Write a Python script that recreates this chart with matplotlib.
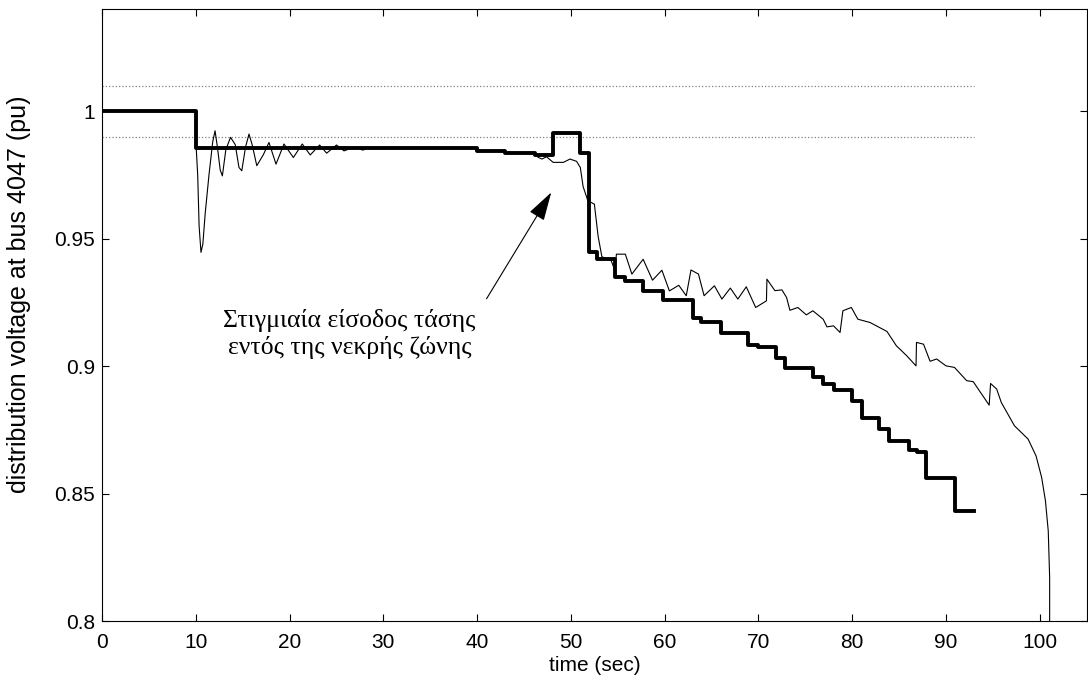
import matplotlib.pyplot as plt
import numpy as np

plt.rcParams["font.family"] = "Liberation Sans"
plt.rcParams.update({'font.size': 15})

# controller reference (step curve): switching times and levels
ref_t = [0, 10, 40, 43, 46.2, 48.1, 51, 51.9, 52.8, 54.7, 55.8, 57.7, 59.8, 63.0, 63.9,
         66.0, 68.9, 70.0, 71.9, 72.8, 75.8, 76.9, 78.0, 80.0, 81.0, 82.9, 83.9, 86.0,
         86.9, 87.9, 91.0, 93.0]
ref_v = [1.0, 0.9858, 0.9843, 0.9836, 0.983, 0.9915, 0.9836, 0.945, 0.942, 0.935, 0.9333,
         0.9297, 0.926, 0.9188, 0.9175, 0.913, 0.9085, 0.9077, 0.9031, 0.8995, 0.896,
         0.893, 0.8906, 0.8865, 0.8797, 0.8754, 0.8708, 0.8672, 0.8665, 0.8564, 0.8433,
         0.8433]

# measured distribution voltage
vt = [0, 10.0, 10.05, 10.2, 10.35, 10.55, 10.75, 11.0, 11.4, 11.8, 12.05, 12.3, 12.6, 12.83,
      13.2, 13.7, 14.2, 14.6, 14.9, 15.3, 15.67, 16.0, 16.5, 17.2, 17.8, 18.55, 19.4, 20.4,
      21.35, 22.2, 23.2, 23.95, 25.0, 25.8, 26.97, 27.8, 28.5, 39.9, 40.0, 43.0, 43.05, 46.0,
      46.5, 46.9, 47.4, 48.1, 49.2, 49.9, 50.6, 51.0, 51.3, 51.8, 52.5, 52.9, 53.3, 54.3,
      54.7, 54.85, 55.8, 56.5, 57.7, 58.7, 59.7, 60.5, 61.5, 62.3, 62.8, 63.6, 64.2, 65.3,
      66.1, 67.0, 67.8, 68.7, 69.7, 70.85, 70.9, 71.75, 72.5, 73.0, 73.35, 74.2, 75.1, 75.8,
      76.9, 77.3, 78.0, 78.7, 79.0, 79.9, 80.6, 81.9, 83.7, 84.7, 85.8, 86.8, 86.85, 87.6,
      88.3, 89.0, 90.0, 90.9, 92.2, 92.9, 94.6, 94.75, 95.4, 95.9, 97.3, 98.75, 99.6, 100.2,
      100.6, 100.9, 101.05, 101.05]
vv = [1.0, 1.0, 0.985, 0.975, 0.955, 0.9447, 0.948, 0.96, 0.975, 0.988, 0.9924, 0.986, 0.977,
      0.9747, 0.985, 0.9898, 0.987, 0.978, 0.9767, 0.986, 0.9911, 0.987, 0.9787, 0.983, 0.9878,
      0.9793, 0.9872, 0.9819, 0.9872, 0.9829, 0.9868, 0.9836, 0.9868, 0.9845, 0.9861, 0.9848,
      0.9858, 0.9858, 0.9843, 0.9843, 0.9836, 0.9836, 0.982, 0.9813, 0.9822, 0.980, 0.980,
      0.9813, 0.9804, 0.978, 0.9705, 0.965, 0.9636, 0.951, 0.943, 0.9414, 0.9375, 0.944,
      0.944, 0.9362, 0.942, 0.9338, 0.9377, 0.9296, 0.9318, 0.9277, 0.9378, 0.9362, 0.9277,
      0.9316, 0.9264, 0.9307, 0.9264, 0.9312, 0.9231, 0.9257, 0.9342, 0.9297, 0.930, 0.927,
      0.922, 0.9231, 0.9202, 0.9218, 0.9185, 0.9155, 0.9159, 0.9133, 0.9218, 0.9231, 0.9185,
      0.9172, 0.9137, 0.9081, 0.9042, 0.9002, 0.9094, 0.9087, 0.9020, 0.9029, 0.9002, 0.8996,
      0.8944, 0.894, 0.8848, 0.8933, 0.8911, 0.8858, 0.8767, 0.8715, 0.8649, 0.8564, 0.8473,
      0.8355, 0.8172, 0.79]

# dead band limits
band = [0.99, 1.01]
band_end = 93

xticks = np.arange(0, 101, 10)
yticks = [0.8, 0.85, 0.9, 0.95, 1.0]
ytick_labels = ['0.8', '0.85', '0.9', '0.95', '1']

fig = plt.figure(figsize=(10.88, 6.92), dpi=100)
ax = fig.add_axes([0.0938, 0.102, 0.905, 0.8845])

for b in band:
    ax.plot([0, band_end], [b, b], ':', c='gray', linewidth=0.9)
ax.plot(vt, vv, '-', c='k', linewidth=0.8)
ax.plot(ref_t, ref_v, '-', c='k', linewidth=2.8, drawstyle='steps-post')

ax.annotate('', xy=(47.9, 0.9682), xytext=(41.0, 0.9265),
            arrowprops=dict(arrowstyle='-|>,head_length=1.2,head_width=0.35', color='k',
                            lw=0.8, shrinkA=0, shrinkB=0))
ax.text(26.4, 0.9128, 'Στιγμιαία είσοδος τάσης\nεντός της νεκρής ζώνης',
        ha='center', va='center', family='Liberation Serif', fontsize=18.5, linespacing=1.2)

ax.set_xlim([0, 105])
ax.set_ylim([0.8, 1.04])
ax.set_xticks(xticks)
ax.set_yticks(yticks)
ax.set_yticklabels(ytick_labels)
ax.tick_params(axis='both', direction='in', length=5, top=True, right=True)
ax.tick_params(axis='x', pad=8)
ax.tick_params(axis='y', pad=5)
ax.set_xlabel('time (sec)', labelpad=3)
ax.set_ylabel('distribution voltage at bus 4047 (pu)', fontsize=18)
ax.yaxis.set_label_coords(-0.072, 0.535)

fig.savefig('out.png', dpi=100)
